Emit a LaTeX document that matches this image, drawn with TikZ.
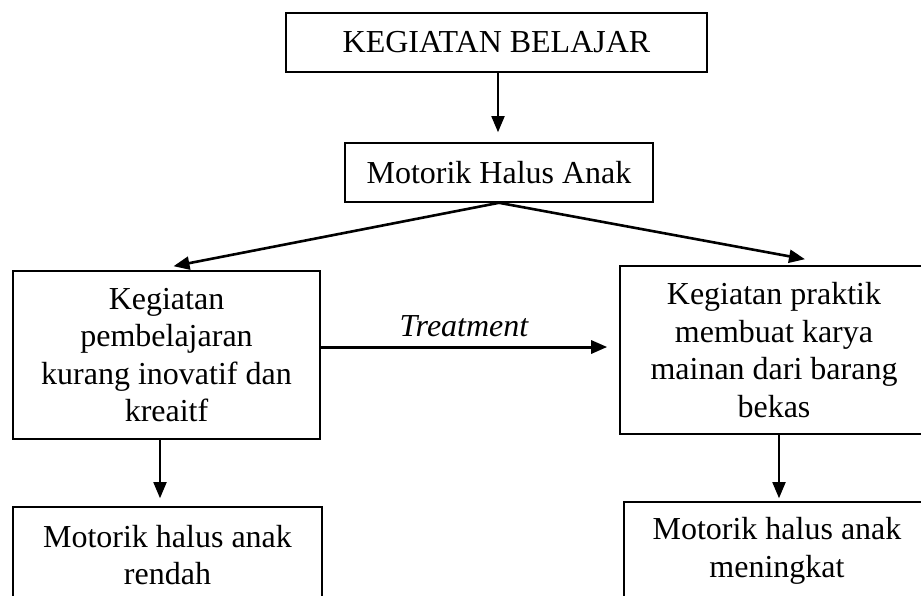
\documentclass[tikz,border=0pt]{standalone}
\usepackage{fontspec}
\setmainfont{Liberation Serif}
\usetikzlibrary{arrows.meta}

\begin{document}
\begin{tikzpicture}[x=1pt,y=-1pt,
    box/.style={draw, line width=1.6pt, align=center, inner sep=0pt,
        font=\fontsize{32}{37.5}\selectfont},
    arr/.style={line width=1.8pt, -{Triangle[length=16pt,width=13pt]}}]
        \useasboundingbox (0,0) rectangle (921,595);
        \clip (0,0) rectangle (921,595);

        \node[box, minimum width=421pt, minimum height=59pt] (kb) at (496.5, 42.5) {KEGIATAN BELAJAR};
        \node[box, minimum width=308pt, minimum height=59pt] (mh) at (499, 172.5) {Motorik Halus Anak};

        \node[box, minimum width=307pt, minimum height=168pt] (kl) at (166.5, 355)
            {Kegiatan\\pembelajaran\\kurang inovatif dan\\kreaitf};
        \node[box, minimum width=308pt, minimum height=168pt] (kp) at (774, 350)
            {Kegiatan praktik\\membuat karya\\mainan dari barang\\bekas};

        \node[box, minimum width=309pt, minimum height=96pt] (rl) at (167.5, 555)
            {Motorik halus anak\\rendah};
        \node[box, minimum width=306pt, minimum height=98pt] (rm) at (777, 551)
            {Motorik halus anak\\meningkat};

        \draw[arr, shorten >=10pt] ([xshift=1.5pt]kb.south) -- ([xshift=1.5pt]kb.south |- mh.north);
        \draw[arr, line width=2.6pt] (mh.south) -- ([shift={(7,-4)}]kl.north);
        \draw[arr, line width=2.6pt] (mh.south) -- ([shift={(31,-6)}]kp.north);
        \draw[arr, line width=3pt] ([yshift=8pt]kl.east) --
            node[above=5pt, font=\fontsize{32}{37.5}\selectfont\itshape] (tr) {Treatment}
            ([shift={(-12,-3)}]kp.west);
        \draw[arr, shorten >=8pt] ([xshift=-6.5pt]kl.south) -- ([xshift=-6.5pt]kl.south |- rl.north);
        \draw[arr, shorten >=3pt] ([xshift=5pt]kp.south) -- ([xshift=5pt]kp.south |- rm.north);

    \end{tikzpicture}
\end{document}
